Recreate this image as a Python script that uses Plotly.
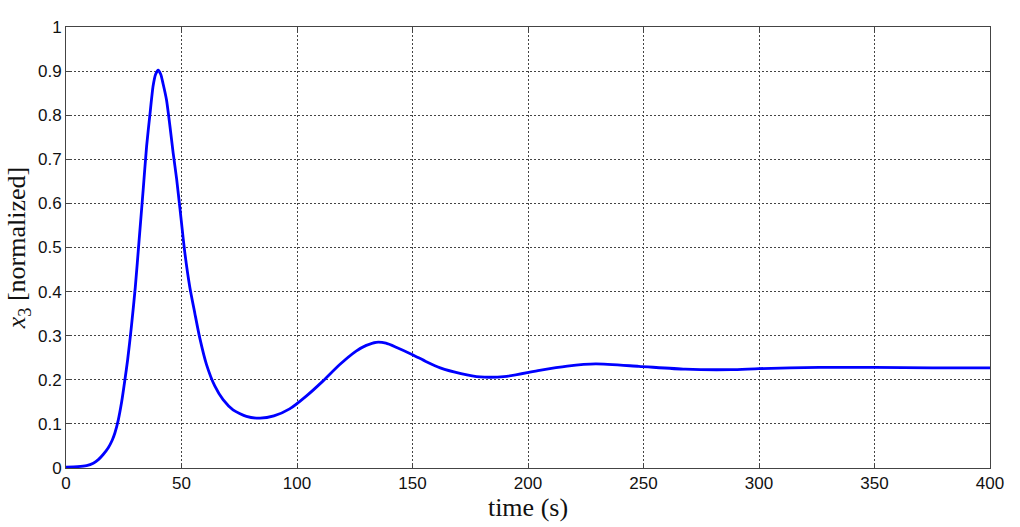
import plotly.graph_objects as go

time_s = [0, 5, 8.9, 11.8, 14, 16, 18.3, 20, 21.2, 22.6, 24.1, 25.5, 26.7, 28.3, 30, 31.7,
          33.4, 34.9, 36.3, 37.7, 38.8, 39.9, 41, 42, 43.5, 45, 46.4, 47.9, 49.3, 51.4, 53.6,
          55.8, 57.9, 60.8, 64.4, 68, 72.3, 78.1, 84, 90, 96.8, 104, 111.2, 118.4, 125.6,
          130, 134.3, 138.5, 142.9, 150, 156, 162, 171, 179.3, 190.8, 205, 217, 229.3, 248,
          268, 288, 300, 326, 350, 375, 400]
x3_norm = [0.002, 0.003, 0.0055, 0.011, 0.019, 0.03, 0.046, 0.063, 0.08, 0.108, 0.15, 0.2,
           0.246, 0.32, 0.41, 0.52, 0.63, 0.73, 0.80, 0.866, 0.893, 0.902, 0.893, 0.872,
           0.835, 0.775, 0.714, 0.655, 0.59, 0.49, 0.41, 0.35, 0.295, 0.235, 0.186, 0.155,
           0.132, 0.117, 0.113, 0.118, 0.134, 0.163, 0.197, 0.234, 0.265, 0.278, 0.285,
           0.283, 0.274, 0.257, 0.241, 0.227, 0.214, 0.2065, 0.208, 0.2216, 0.231, 0.236,
           0.2306, 0.224, 0.223, 0.2254, 0.2284, 0.228, 0.227, 0.227]

x_ticks = [0, 50, 100, 150, 200, 250, 300, 350, 400]
y_ticks = [0, 0.1, 0.2, 0.3, 0.4, 0.5, 0.6, 0.7, 0.8, 0.9, 1]
y_tick_labels = ["0", "0.1", "0.2", "0.3", "0.4", "0.5", "0.6", "0.7", "0.8", "0.9", "1"]

fig = go.Figure()
fig.add_trace(go.Scatter(
    x=time_s, y=x3_norm, mode="lines",
    line=dict(color="#0000FF", width=2.8, shape="spline", smoothing=0.6),
    showlegend=False, hoverinfo="skip"))

axis_common = dict(
    showline=True, linecolor="#444444", linewidth=1, mirror="ticks",
    ticks="inside", ticklen=5, tickcolor="#444444",
    showgrid=True, gridcolor="#444444", gridwidth=1, griddash="2px,2px",
    zeroline=False, automargin=False,
    tickfont=dict(family="Liberation Sans, Arial, sans-serif", size=17, color="#111111"),
)

fig.update_xaxes(range=[0, 400], tickvals=x_ticks, ticktext=[str(v) for v in x_ticks],
                 title=dict(text="time (s)", font=dict(family="Liberation Serif, Times New Roman, serif",
                                                       size=26, color="#111111"), standoff=2),
                 **axis_common)
fig.update_yaxes(range=[0, 1], tickvals=y_ticks, ticktext=y_tick_labels,
                 title=dict(text="<i>x</i><sub>3</sub> [normalized]",
                            font=dict(family="Liberation Serif, Times New Roman, serif",
                                      size=26, color="#111111"), standoff=4),
                 **axis_common)

fig.update_layout(
    width=1020, height=527,
    margin=dict(l=66, r=30, t=27, b=59),
    paper_bgcolor="white", plot_bgcolor="white",
)

fig.write_html("out.html", config={"displayModeBar": False},
               post_script="document.body.style.margin='0';document.body.style.overflow='hidden';")
